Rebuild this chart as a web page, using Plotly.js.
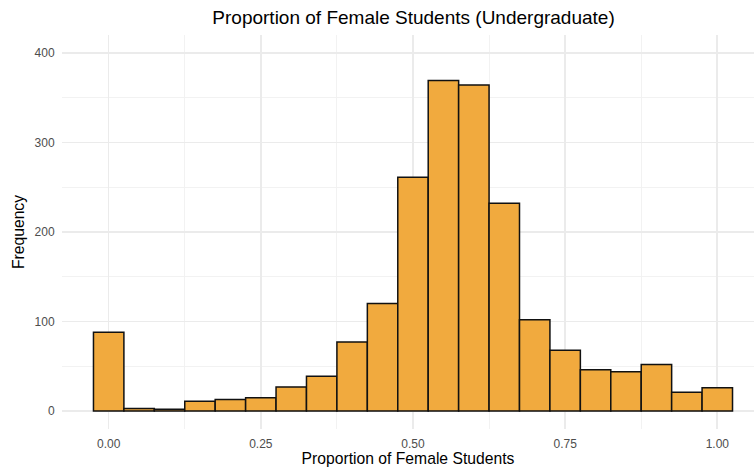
<!DOCTYPE html>
<html>
<head>
<meta charset="utf-8">
<script src="https://cdn.plot.ly/plotly-3.0.1.min.js"></script>
<style>html,body{margin:0;padding:0;background:#fff;}#chart{width:754px;height:467px;}</style>
</head>
<body>
<div id="chart"></div>
<script>
const binCenters = [0.00,0.05,0.10,0.15,0.20,0.25,0.30,0.35,0.40,0.45,0.50,0.55,0.60,0.65,0.70,0.75,0.80,0.85,0.90,0.95,1.00];
const counts = [88,3,2,11,13,15,27,39,77,120,261,369,364,232,102,68,46,44,52,21,26];
const xTickVals = [0,0.25,0.5,0.75,1];
const xTickText = ["0.00","0.25","0.50","0.75","1.00"];
const yTickVals = [0,100,200,300,400];
const yTickText = ["0","100","200","300","400"];

const trace = {
  type: 'bar',
  x: binCenters,
  y: counts,
  width: 0.05,
  marker: {color: '#F1AA3E', line: {color: '#111111', width: 1.5}},
  hoverinfo: 'x+y'
};

const font = "Liberation Sans, Arial, sans-serif";
const layout = {
  width: 754, height: 467,
  margin: {l: 62, r: 0, t: 35, b: 38, pad: 0},
  paper_bgcolor: '#fff', plot_bgcolor: '#fff',
  showlegend: false,
  bargap: 0,
  font: {family: font, color: '#4D4D4D', size: 12},
  title: {text: 'Proportion of Female Students (Undergraduate)', x: 0.508, xref: 'paper', xanchor: 'center', y: 17, yref: 'container', yanchor: 'middle', font: {family: font, size: 19, color: '#000'}},
  xaxis: {
    range: [-0.0767, 1.0603],
    tickvals: xTickVals, ticktext: xTickText,
    showgrid: true, gridcolor: '#EBEBEB', gridwidth: 1.6,
    minor: {dtick: 0.125, tick0: 0.125, showgrid: true, gridcolor: '#F1F1F1', gridwidth: 0.9},
    zeroline: false, showline: false, ticks: 'outside', ticklen: 4, tickcolor: 'rgba(0,0,0,0)',
    tickfont: {family: font, size: 12, color: '#4D4D4D'},
    title: {text: 'Proportion of Female Students', font: {family: font, size: 15.7, color: '#000'}, standoff: 4}
  },
  yaxis: {
    range: [-20, 419.8],
    tickvals: yTickVals, ticktext: yTickText,
    showgrid: true, gridcolor: '#EBEBEB', gridwidth: 1.6,
    minor: {dtick: 50, tick0: 50, showgrid: true, gridcolor: '#F1F1F1', gridwidth: 0.9},
    zeroline: false, showline: false, ticks: 'outside', ticklen: 4, tickcolor: 'rgba(0,0,0,0)',
    tickfont: {family: font, size: 12, color: '#4D4D4D'},
    title: {text: 'Frequency', font: {family: font, size: 15.7, color: '#000'}, standoff: 6}
  }
};

Plotly.newPlot('chart', [trace], layout, {displayModeBar: false, staticPlot: true});
</script>
</body>
</html>
